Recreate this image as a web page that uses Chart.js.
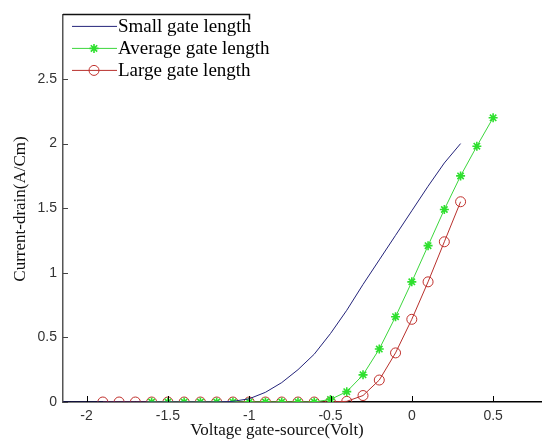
<!DOCTYPE html>
<html>
<head>
<meta charset="utf-8">
<script src="https://cdn.jsdelivr.net/npm/chart.js@4"></script>
<style>
  body { margin: 0; background: #fff; overflow: hidden; }
  canvas { display: block; }
</style>
</head>
<body>
<canvas id="ivChart" width="548" height="441"></canvas>
<script>
// gate voltage (V) / drain current (A/cm)
const smallX = [-2.2, -2.1, -2.0, -1.9, -1.8, -1.7, -1.6, -1.5, -1.4, -1.3, -1.2, -1.1, -1.0,
                -0.9, -0.8, -0.7, -0.6, -0.5, -0.4, -0.3, -0.2, -0.1, 0.0, 0.1, 0.2, 0.3];
const smallY = [0, 0, 0, 0, 0, 0, 0, 0, 0, 0, 0, 0.005, 0.025,
                0.075, 0.15, 0.25, 0.37, 0.53, 0.71, 0.91, 1.10, 1.29, 1.48, 1.67, 1.85, 2.0];

const avgX = [-1.6, -1.5, -1.4, -1.3, -1.2, -1.1, -1.0, -0.9, -0.8, -0.7, -0.6,
              -0.5, -0.4, -0.3, -0.2, -0.1, 0.0, 0.1, 0.2, 0.3, 0.4, 0.5];
const avgY = [0, 0, 0, 0, 0, 0, 0, 0, 0, 0, 0,
              0.02, 0.08, 0.21, 0.41, 0.66, 0.93, 1.21, 1.49, 1.75, 1.98, 2.2];

const largeX = [-1.9, -1.8, -1.7, -1.6, -1.5, -1.4, -1.3, -1.2, -1.1, -1.0, -0.9, -0.8,
                -0.7, -0.6, -0.5, -0.4, -0.3, -0.2, -0.1, 0.0, 0.1, 0.2, 0.3];
const largeY = [0, 0, 0, 0, 0, 0, 0, 0, 0, 0, 0, 0,
                0, 0, 0, 0.005, 0.05, 0.17, 0.38, 0.64, 0.93, 1.24, 1.55];

const seriesNames = ['Small gate length', 'Average gate length', 'Large gate length'];
const xTicks = [-2, -1.5, -1, -0.5, 0, 0.5];
const yTicks = [0, 0.5, 1, 1.5, 2, 2.5];

function toPoints(xs, ys) {
    return xs.map(function (x, i) { return { x: x, y: ys[i] }; });
}

// inward tick marks, top edge, legend box and axis titles (matlab look)
const matlabDecor = {
    id: 'matlabDecor',
    afterDraw: function (chart) {
        const ctx = chart.ctx;
        const area = chart.chartArea;
        const xs = chart.scales.x;
        const ys = chart.scales.y;
        ctx.save();
        ctx.strokeStyle = '#000';
        ctx.lineWidth = 1;
        xTicks.forEach(function (v) {
            const px = Math.round(xs.getPixelForValue(v)) + 0.5;
            ctx.beginPath();
            ctx.moveTo(px, area.bottom);
            ctx.lineTo(px, area.bottom - 6);
            ctx.stroke();
        });
        ctx.strokeStyle = '#444';
        yTicks.forEach(function (v) {
            const py = Math.round(ys.getPixelForValue(v)) + 0.5;
            ctx.beginPath();
            ctx.moveTo(area.left, py);
            ctx.lineTo(area.left + 5, py);
            ctx.stroke();
        });

        // top edge, only visible as far as x = -1
        const stopX = Math.round(xs.getPixelForValue(-1)) + 0.5;
        ctx.strokeStyle = '#111';
        ctx.lineWidth = 1.5;
        ctx.beginPath();
        ctx.moveTo(area.left, area.top);
        ctx.lineTo(stopX, area.top);
        ctx.lineTo(stopX, area.top + 5);
        ctx.stroke();

        // legend
        ctx.font = '19px "Liberation Serif", "Times New Roman", serif';
        ctx.textBaseline = 'middle';
        ctx.textAlign = 'left';
        chart.data.datasets.forEach(function (ds, i) {
            const y = area.top + 12 + i * 22;
            ctx.strokeStyle = ds.borderColor;
            ctx.lineWidth = 1;
            ctx.beginPath();
            ctx.moveTo(area.left + 9, y);
            ctx.lineTo(area.left + 54, y);
            ctx.stroke();
            if (ds.pointRadius > 0) {
                ctx.strokeStyle = ds.pointBorderColor;
                ctx.fillStyle = 'rgba(0,0,0,0)';
                ctx.lineWidth = ds.pointBorderWidth;
                Chart.helpers.drawPoint(ctx, {
                    pointStyle: ds.pointStyle,
                    radius: ds.pointRadius,
                    borderWidth: ds.pointBorderWidth
                }, area.left + 31, y);
            }
            ctx.fillStyle = '#000';
            ctx.fillText(ds.label, area.left + 55, y + 1);
        });

        // axis titles
        ctx.fillStyle = '#111';
        ctx.font = '17px "Liberation Serif", "Times New Roman", serif';
        ctx.textAlign = 'center';
        ctx.fillText('Voltage gate-source(Volt)', 277, 431);
        ctx.translate(21, 209);
        ctx.rotate(-Math.PI / 2);
        ctx.fillText('Current-drain(A/Cm)', 0, 0);
        ctx.restore();
    }
};

const tickFont = { family: '"Liberation Sans", Arial, sans-serif', size: 14 };

function plainLabel(value) {
    return String(value);
}

new Chart(document.getElementById('ivChart').getContext('2d'), {
    type: 'line',
    data: {
        datasets: [{
            label: seriesNames[0],
            data: toPoints(smallX, smallY),
            borderColor: '#24247a',
            borderWidth: 1,
            pointRadius: 0,
            fill: false
        }, {
            label: seriesNames[1],
            data: toPoints(avgX, avgY),
            borderColor: '#3cd63c',
            backgroundColor: '#3cd63c',
            borderWidth: 1,
            pointStyle: 'star',
            pointRadius: 4.5,
            pointBorderWidth: 1.6,
            pointBorderColor: '#2ee02e',
            fill: false
        }, {
            label: seriesNames[2],
            data: toPoints(largeX, largeY),
            borderColor: '#b8302c',
            backgroundColor: 'rgba(0,0,0,0)',
            borderWidth: 1,
            pointStyle: 'circle',
            pointRadius: 5,
            pointBorderWidth: 1,
            pointBorderColor: '#c0302c',
            pointBackgroundColor: 'rgba(0,0,0,0)',
            fill: false
        }]
    },
    options: {
        responsive: false,
        animation: false,
        layout: { padding: { top: 12, right: 0, left: 0, bottom: 0 } },
        plugins: {
            legend: { display: false },
            tooltip: { enabled: false }
        },
        scales: {
            x: {
                type: 'linear',
                min: -2.145,
                max: 0.8,
                grid: { display: false, drawTicks: false },
                border: { display: true, color: '#000', width: 1.5 },
                ticks: { font: tickFont, color: '#333', padding: 6, maxRotation: 0, callback: plainLabel },
                afterBuildTicks: function (scale) {
                    scale.ticks = xTicks.map(function (v) { return { value: v }; });
                },
                afterFit: function (scale) { scale.height = 39; }
            },
            y: {
                type: 'linear',
                min: 0,
                max: 3,
                grid: { display: false, drawTicks: false },
                border: { display: true, color: '#555', width: 1.5 },
                ticks: { font: tickFont, color: '#333', padding: 6, callback: plainLabel },
                afterBuildTicks: function (scale) {
                    scale.ticks = yTicks.map(function (v) { return { value: v }; });
                },
                afterFit: function (scale) { scale.width = 63; }
            }
        }
    },
    plugins: [matlabDecor]
});
</script>
</body>
</html>
